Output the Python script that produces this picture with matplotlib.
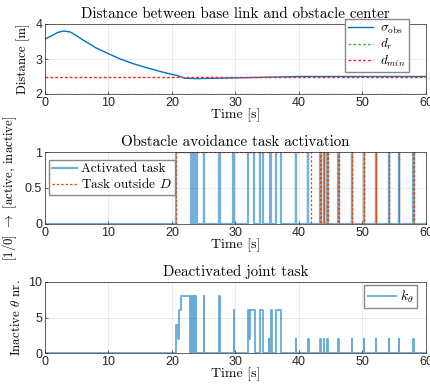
import matplotlib
matplotlib.use("Agg")
import matplotlib.pyplot as plt

# distance plot
t_dist = [0, 1, 2, 3, 4, 5, 6, 8, 10, 12, 14, 16, 18, 20, 21, 22, 24, 27, 30, 35, 40, 45, 50, 60]
sigma_obs = [3.57, 3.66, 3.76, 3.80, 3.77, 3.66, 3.54, 3.32, 3.15, 2.99, 2.86, 2.75, 2.65, 2.56, 2.52,
             2.45, 2.44, 2.45, 2.46, 2.48, 2.50, 2.50, 2.50, 2.50]
d_r = 2.0
d_min = 2.5

# obstacle task activation (step, value holds until next time)
t_act = [0, 20.6, 23.0, 23.1, 23.2, 23.35, 23.45, 23.6, 23.7, 23.85, 23.95,
         25.0, 25.1, 27.4, 27.5, 29.65, 29.75, 32.0, 32.9, 33.8, 34.3, 35.5, 35.6,
         36.3, 37.1, 39.5, 39.6, 41.35, 41.45,
         43.3, 43.4, 43.9, 44.0, 44.4, 44.5, 46.2, 46.3, 48.3, 48.4, 50.2, 50.3,
         52.1, 52.2, 54.1, 54.2, 55.7, 55.8, 58.0, 58.1, 60]
act = [0, 1, 0, 1, 0, 1, 0, 1, 0, 1, 0,
       1, 0, 1, 0, 1, 0, 1, 0, 1, 0, 1, 0,
       1, 0, 1, 0, 1, 0,
       1, 0, 1, 0, 1, 0, 1, 0, 1, 0, 1, 0,
       1, 0, 1, 0, 1, 0, 1, 0, 0]
t_out = [0, 20.6, 41.9,
         43.3, 43.4, 43.9, 44.0, 44.4, 44.5, 46.2, 46.3, 48.3, 48.4, 50.2, 50.3,
         52.1, 52.2, 54.1, 54.2, 55.7, 55.8, 58.0, 58.1, 60]
out = [0, 1, 0,
       1, 0, 1, 0, 1, 0, 1, 0, 1, 0, 1, 0,
       1, 0, 1, 0, 1, 0, 1, 0, 0]

# deactivated joint task
t_k = [0, 20.6, 20.95, 21.05, 21.4, 22.9, 23.0, 23.1, 23.2, 23.35, 23.45, 23.6, 23.7, 23.85, 23.95,
       25.0, 25.1, 27.4, 27.5, 29.7, 29.8, 32.0, 32.15, 32.25, 33.1, 33.9, 34.4,
       35.3, 35.35, 35.6, 35.7, 36.4, 37.2, 39.5, 39.6, 41.4, 41.5,
       43.3, 43.4, 43.9, 44.0, 44.4, 44.5, 46.2, 46.3, 48.3, 48.4, 50.2, 50.3,
       52.1, 52.2, 54.1, 54.2, 55.7, 55.8, 58.0, 58.1, 60]
k_theta = [0, 4, 2, 6, 8, 0, 8, 0, 8, 0, 8, 0, 8, 0, 0,
           8, 0, 8, 0, 6, 0, 6, 2, 6, 0, 6, 0,
           2, 0, 6, 0, 6, 0, 2, 0, 2, 0,
           2, 0, 2, 0, 2, 0, 2, 0, 2, 0, 2, 0,
           2, 0, 2, 0, 2, 0, 2, 0, 0]

plt.rcParams['mathtext.fontset'] = 'cm'
plt.rcParams['font.family'] = 'Liberation Sans'
plt.rcParams['font.size'] = 8
serif = {'family': 'cmr10', 'size': 10.8}
lab = {'family': 'cmr10', 'size': 10}
ylab = {'family': 'cmr10', 'size': 9.3}

blue = '#0072BD'
orange = '#D95319'

fig = plt.figure(figsize=(4.31, 3.89), dpi=100)
ax1 = fig.add_axes([45/431, 1-94/389, 381/431, 70/389])
ax2 = fig.add_axes([45/431, 1-224/389, 381/431, 72/389])
ax3 = fig.add_axes([45/431, 1-353/389, 381/431, 71/389])

ax1.plot(t_dist, sigma_obs, color=blue, lw=1, label=r'$\sigma_{\rm obs}$')
ax1.axhline(d_r, color='#22cc22', ls='--', lw=1, dashes=(2, 1.5), label=r'$d_r$')
ax1.axhline(d_min, color='#ff2222', ls='--', lw=1, dashes=(2, 1.5), label=r'$d_{min}$')
ax1.set_ylim(2, 4)
ax1.set_yticks([2, 3, 4])
ax1.set_ylabel('Distance [m]', fontdict=ylab, labelpad=4)
ax1.set_title('Distance between base link and obstacle center', fontdict=serif, pad=4.5)
ax1.legend(loc='upper right', bbox_to_anchor=(0.955, 1.071), borderaxespad=0, fontsize=9.5,
           handlelength=1.9, labelspacing=0.1, borderpad=0.25, handletextpad=0.5,
           fancybox=False, framealpha=1, edgecolor='#888888')

ax2.step(t_act, act, where='post', color=blue, alpha=0.55, lw=1.6, label='Activated task')
ax2.step(t_out, out, where='post', color=orange, lw=0.9, ls='--', dashes=(2, 1.5), label=r'Task outside $D$')
ax2.set_ylim(0, 1)
ax2.set_yticks([0, 0.5, 1])
ax2.set_yticklabels(['0', '0.5', '1'])
ax2.set_ylabel(r'[1/0] $\rightarrow$ [active, inactive]', fontdict=ylab, labelpad=4)
ax2.set_title('Obstacle avoidance task activation', fontdict=serif, pad=4.5)
ax2.legend(loc='upper left', bbox_to_anchor=(0.01, 0.89), borderaxespad=0,
           prop={'family': 'cmr10', 'size': 9.5},
           handlelength=1.9, labelspacing=0.15, borderpad=0.25, handletextpad=0.3,
           fancybox=False, framealpha=1, edgecolor='#888888')

ax3.step(t_k, k_theta, where='post', color=blue, alpha=0.6, lw=1.3, label=r'$k_\theta$')
ax3.set_ylim(0, 10)
ax3.set_yticks([0, 5, 10])
ax3.set_ylabel(r'Inactive $\theta$ nr.', fontdict=ylab, labelpad=4)
ax3.set_title('Deactivated joint task', fontdict=serif, pad=4.5)
ax3.legend(loc='upper right', bbox_to_anchor=(0.976, 0.958), borderaxespad=0, fontsize=10,
           handlelength=2.0, borderpad=0.25, handletextpad=0.3, fancybox=False,
           framealpha=1, edgecolor='#888888')

for ax in [ax1, ax2, ax3]:
    ax.set_xlim(0, 60)
    ax.set_xticks([0, 10, 20, 30, 40, 50, 60])
    ax.set_xlabel('Time [s]', fontdict=lab, labelpad=0)
    ax.grid(True, color='#e6e6e6', lw=0.6)
    ax.set_axisbelow(True)
    ax.tick_params(direction='in', length=2.5, width=0.5, colors='#262626', labelsize=9, pad=2)
    for s in ax.spines.values():
        s.set_color('#262626')
        s.set_linewidth(0.5)

fig.savefig('out.png', dpi=100)
